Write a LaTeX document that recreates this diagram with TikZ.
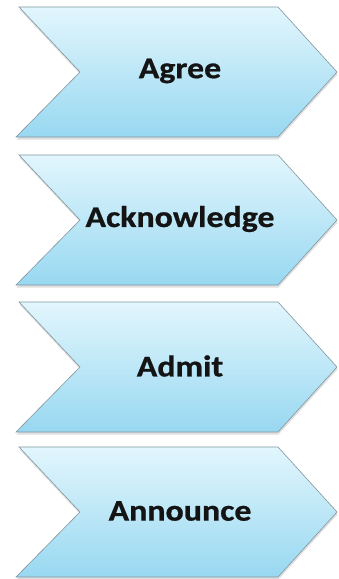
\documentclass[tikz,border=0pt]{standalone}
\usepackage{fontspec}
\setmainfont{Carlito}[BoldFeatures={FakeBold=0.7}]
\usetikzlibrary{shadows}
\definecolor{chevtop}{RGB}{226,246,253}
\definecolor{chevbot}{RGB}{152,216,241}
\definecolor{chevline}{RGB}{130,150,158}
\tikzset{
  chev/.style={draw=chevline, line width=0.6pt, top color=chevtop, bottom color=chevbot,
    drop shadow={opacity=0.25, shadow xshift=0.5pt, shadow yshift=-2.5pt}},
  chevlabel/.style={font=\fontsize{30}{32}\selectfont\bfseries, text=black!92}
}
\newcommand{\chevron}[3]{%
  \path[chev] (19,#1) -- (278,#1) -- (337,#1+65) -- (278,#1+130) -- (16,#1+130) -- (80,#1+65) -- cycle;
  \node[chevlabel] (#2) at (180,#1+64) {\scalebox{1.13}[1]{#3}};
}
\begin{document}
\begin{tikzpicture}[x=1pt,y=-1pt]
\useasboundingbox (0,0) rectangle (338,579);
\fill[white] (0,0) rectangle (338,579);
\chevron{7}{agree}{Agree}
\chevron{155}{ack}{Acknowledge}
\chevron{302}{admit}{Admit}
\chevron{447}{announce}{Announce}
\end{tikzpicture}
\end{document}
